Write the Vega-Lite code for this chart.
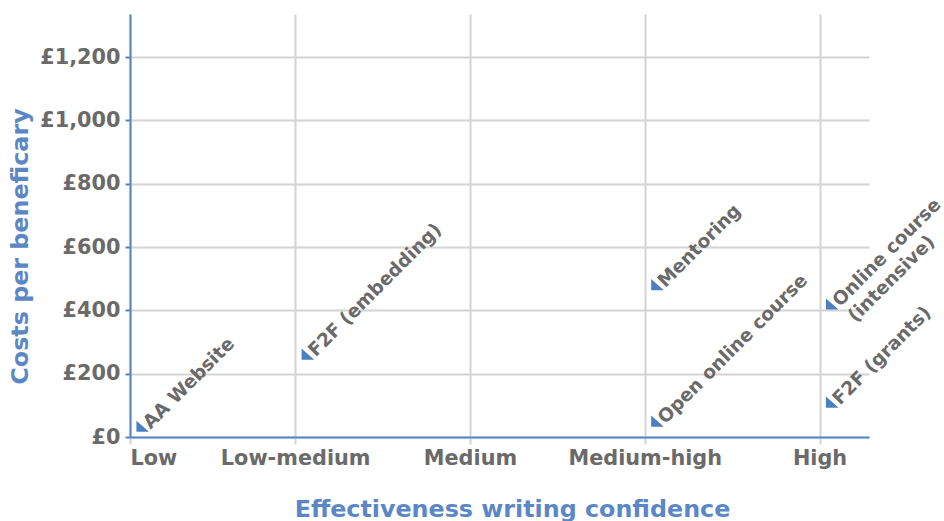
{
  "$schema": "https://vega.github.io/schema/vega-lite/v6.json",
  "width": 739,
  "height": 423,
  "autosize": {"type": "none"},
  "padding": {"left": 130, "top": 14, "right": 75, "bottom": 84},
  "background": "white",
  "config": {"view": {"stroke": null}, "font": "DejaVu Sans"},
  "data": {
    "values": [
      {"programme": "AA Website", "effectiveness": 0, "cost": 34},
      {"programme": "F2F (embedding)", "effectiveness": 1, "cost": 262},
      {"programme": "Mentoring", "effectiveness": 3, "cost": 481},
      {"programme": "Open online course", "effectiveness": 3, "cost": 50},
      {"programme": "Online course\n(intensive)", "effectiveness": 4, "cost": 420},
      {"programme": "F2F (grants)", "effectiveness": 4, "cost": 110}
    ]
  },
  "encoding": {
    "x": {
      "field": "effectiveness",
      "type": "quantitative",
      "scale": {"domain": [0.055, 4.283], "nice": false, "zero": false, "clamp": true},
      "axis": {
        "title": "Effectiveness writing confidence",
        "values": [0.055, 1, 2, 3, 4],
        "labelExpr": "datum.value < 0.5 ? 'Low' : datum.value < 1.5 ? 'Low-medium' : datum.value < 2.5 ? 'Medium' : datum.value < 3.5 ? 'Medium-high' : 'High'",
        "labelFlush": true,
        "labelOverlap": false,
        "domainColor": "#5585c6",
        "domainWidth": 2,
        "gridColor": "#d4d4d4",
        "gridWidth": 2,
        "tickColor": "#d4d4d4",
        "tickWidth": 2,
        "tickSize": 7,
        "labelPadding": 4,
        "labelFontSize": 20.8,
        "labelFontWeight": "bold",
        "labelColor": "#6a6a6a",
        "titleFontSize": 23.8,
        "titleFontWeight": "bold",
        "titleColor": "#5b87c7",
        "titleX": 382,
        "titleY": 72,
        "titleBaseline": "middle",
        "titleAlign": "center"
      }
    },
    "y": {
      "field": "cost",
      "type": "quantitative",
      "scale": {"domain": [0, 1336], "nice": false},
      "axis": {
        "title": "Costs per beneficary",
        "values": [0, 200, 400, 600, 800, 1000, 1200],
        "labelExpr": "'£' + format(datum.value, ',')",
        "domainColor": "#5585c6",
        "domainWidth": 2,
        "gridColor": "#d4d4d4",
        "gridWidth": 2,
        "tickColor": "#5585c6",
        "tickWidth": 2,
        "tickSize": 5,
        "labelPadding": 5,
        "labelFontSize": 20.8,
        "labelFontWeight": "bold",
        "labelColor": "#6a6a6a",
        "titleFontSize": 23.8,
        "titleFontWeight": "bold",
        "titleColor": "#5b87c7",
        "titleAngle": 270,
        "titleX": -110,
        "titleY": 232,
        "titleBaseline": "middle",
        "titleAlign": "center"
      }
    }
  },
  "layer": [
    {
      "mark": {"type": "point", "shape": "M 1.15 -1 L 1.15 1 L 3.4 1 Z", "size": 125, "filled": true, "color": "#4a7fc1", "opacity": 1}
    },
    {
      "mark": {"type": "text", "angle": 315, "align": "left", "baseline": "alphabetic", "dx": 12, "dy": 17, "fontSize": 18.6, "fontWeight": "bold", "color": "#6a6a6a", "lineBreak": "\n", "lineHeight": 22},
      "encoding": {"text": {"field": "programme"}}
    }
  ]
}
